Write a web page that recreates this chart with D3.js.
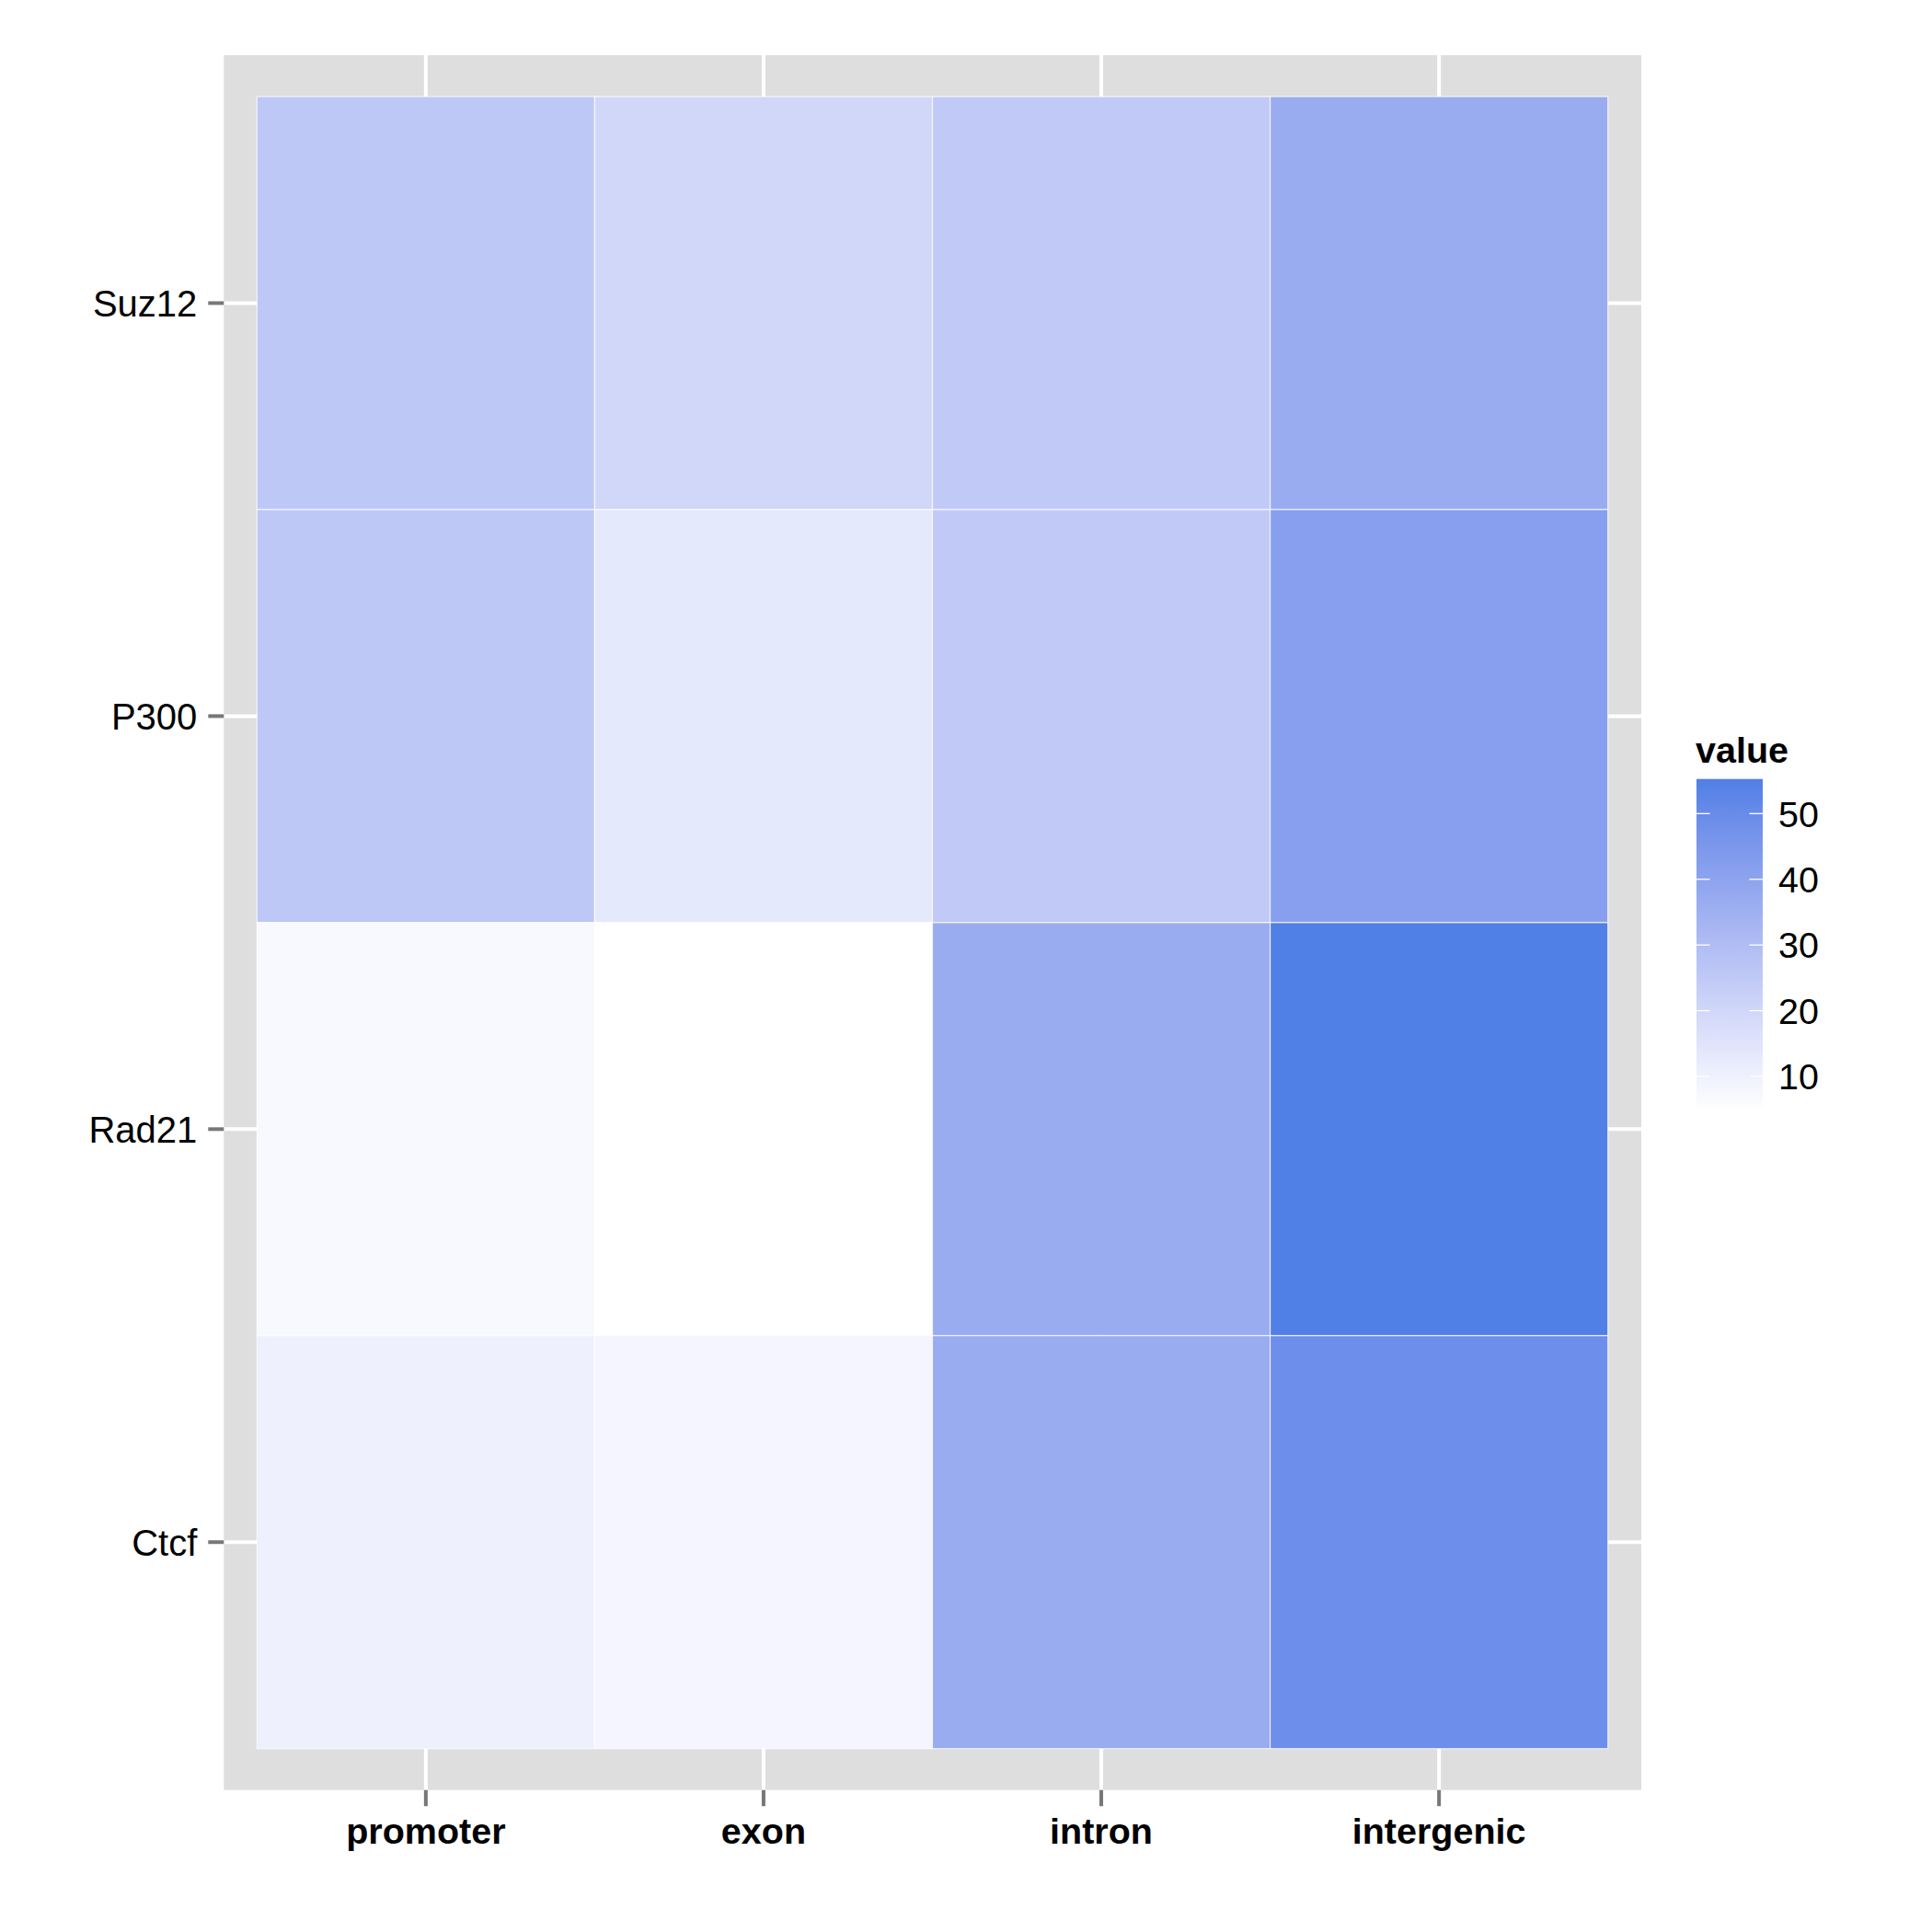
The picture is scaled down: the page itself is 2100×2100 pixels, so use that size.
<!DOCTYPE html>
<html>
<head>
<meta charset="utf-8">
<script src="https://cdn.jsdelivr.net/npm/d3@7"></script>
<style>
  html, body { margin: 0; padding: 0; background: #fff; }
  svg text { font-family: "Liberation Sans", Arial, sans-serif; }
</style>
</head>
<body>
<svg id="chart" width="2100" height="2100"></svg>
<script>
// ---- data ----
const regions = ["promoter", "exon", "intron", "intergenic"];
const factors = ["Suz12", "P300", "Rad21", "Ctcf"]; // top to bottom
const suz12 = [25.5, 19.8, 24.8, 36.6];
const p300  = [25.5, 13.2, 24.8, 41.9];
const rad21 = [7.1, 4.86, 36.6, 55.27];
const ctcf  = [10.5, 8.5, 36.8, 48.9];
const legendTicks = [10, 20, 30, 40, 50];

const rows = { Suz12: suz12, P300: p300, Rad21: rad21, Ctcf: ctcf };
const cells = [];
factors.forEach(f => regions.forEach((r, i) => cells.push({ factor: f, region: r, value: rows[f][i] })));

const svg = d3.select("#chart");

// ---- layout ----
const panel = { x0: 243.3, x1: 1784, y0: 60, y1: 1945.7 };
const tiles = { x0: 279.3, x1: 1747.7, y0: 105, y1: 1900.7 };

const x = d3.scaleBand().domain(regions).range([tiles.x0, tiles.x1]).padding(0);
const y = d3.scaleBand().domain(factors).range([tiles.y0, tiles.y1]).padding(0);

const allVals = cells.map(d => d.value);
const vmin = d3.min(allVals), vmax = d3.max(allVals);
const color = d3.scaleLinear().domain([vmin, vmax]).range(["#ffffff", "#507fe6"]).interpolate(d3.interpolateLab);

// panel background
svg.append("rect")
  .attr("x", panel.x0).attr("y", panel.y0)
  .attr("width", panel.x1 - panel.x0).attr("height", panel.y1 - panel.y0)
  .attr("fill", "#dedede");

// gridlines
const grid = svg.append("g");
regions.forEach(r => {
  const cx = x(r) + x.bandwidth() / 2;
  grid.append("line").attr("x1", cx).attr("x2", cx).attr("y1", panel.y0).attr("y2", panel.y1)
    .attr("stroke", "#fff").attr("stroke-width", 4);
});
factors.forEach(f => {
  const cy = y(f) + y.bandwidth() / 2;
  grid.append("line").attr("x1", panel.x0).attr("x2", panel.x1).attr("y1", cy).attr("y2", cy)
    .attr("stroke", "#fff").attr("stroke-width", 4);
});

// tiles
svg.append("g").selectAll("rect").data(cells).join("rect")
  .attr("x", d => x(d.region))
  .attr("y", d => y(d.factor))
  .attr("width", x.bandwidth())
  .attr("height", y.bandwidth())
  .attr("fill", d => color(d.value))
  .attr("stroke", "rgba(255,255,255,0.75)")
  .attr("stroke-width", 1.2);

// y axis ticks and labels
const yAxis = svg.append("g");
factors.forEach(f => {
  const cy = y(f) + y.bandwidth() / 2;
  yAxis.append("line").attr("x1", panel.x0 - 17).attr("x2", panel.x0).attr("y1", cy).attr("y2", cy)
    .attr("stroke", "#777777").attr("stroke-width", 4);
  yAxis.append("text").attr("x", panel.x0 - 29).attr("y", cy).attr("dy", "0.36em")
    .attr("text-anchor", "end").attr("font-size", 40).attr("fill", "#000").text(f);
});

// x axis ticks and labels
const xAxis = svg.append("g");
regions.forEach(r => {
  const cx = x(r) + x.bandwidth() / 2;
  xAxis.append("line").attr("x1", cx).attr("x2", cx).attr("y1", panel.y1).attr("y2", panel.y1 + 17.5)
    .attr("stroke", "#777777").attr("stroke-width", 4);
  xAxis.append("text").attr("x", cx).attr("y", 2004)
    .attr("text-anchor", "middle").attr("font-size", 39.5).attr("font-weight", "bold").attr("fill", "#000").text(r);
});

// ---- legend ----
const lg = { x0: 1844, x1: 1916, y0: 846.7, y1: 1206.7 };
const ly = d3.scaleLinear().domain([vmin, vmax]).range([lg.y1, lg.y0]);

const defs = svg.append("defs");
const grad = defs.append("linearGradient").attr("id", "lgGrad")
  .attr("x1", 0).attr("y1", 1).attr("x2", 0).attr("y2", 0);
d3.range(0, 21).forEach(i => {
  const t = i / 20;
  grad.append("stop").attr("offset", t).attr("stop-color", color(vmin + t * (vmax - vmin)));
});

svg.append("text").attr("x", lg.x0 - 1).attr("y", 829.3)
  .attr("font-size", 39.5).attr("font-weight", "bold").attr("fill", "#000").text("value");

svg.append("rect").attr("x", lg.x0).attr("y", lg.y0)
  .attr("width", lg.x1 - lg.x0).attr("height", lg.y1 - lg.y0)
  .attr("fill", "url(#lgGrad)");

const lt = svg.append("g");
legendTicks.forEach(v => {
  const ty = ly(v);
  lt.append("line").attr("x1", lg.x0).attr("x2", lg.x0 + 14.5).attr("y1", ty).attr("y2", ty)
    .attr("stroke", "#fff").attr("stroke-width", 1.3);
  lt.append("line").attr("x1", lg.x1 - 14.5).attr("x2", lg.x1).attr("y1", ty).attr("y2", ty)
    .attr("stroke", "#fff").attr("stroke-width", 1.3);
  lt.append("text").attr("x", 1933).attr("y", ty).attr("dy", "0.36em")
    .attr("font-size", 39.5).attr("fill", "#000").text(v);
});
</script>
</body>
</html>
